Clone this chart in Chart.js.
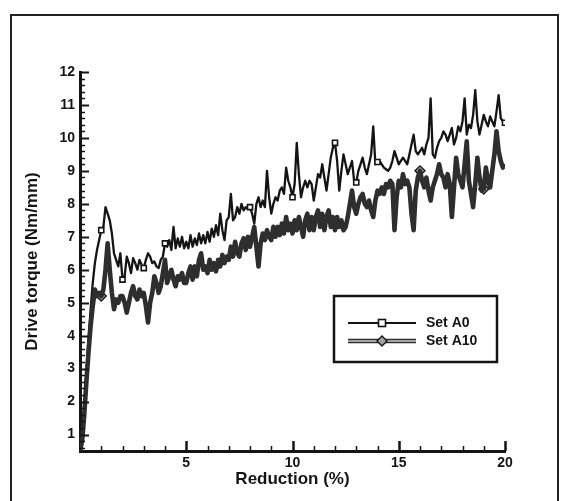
<!DOCTYPE html>
<html>
<head>
<meta charset="utf-8">
<script src="https://cdn.jsdelivr.net/npm/chart.js@4/dist/chart.umd.min.js"></script>
<style>
  html, body { margin: 0; padding: 0; background: #fff; }
  #wrap { position: relative; width: 562px; height: 501px; overflow: hidden; }
  #frame { position: absolute; left: 10px; top: 14px; width: 545px; height: 495px; border: 2px solid #222; border-bottom: none; }
  canvas { position: absolute; left: 0; top: 0; }
</style>
</head>
<body>
<div id="wrap">
  <div id="frame"></div>
  <canvas id="torque_chart" width="562" height="501"></canvas>
</div>
<script>
// DATA (one value every 0.1 % reduction)
const reductionStep = 0.1;

const setA0 = [
  0.6, 0.9, 1.8, 2.9, 3.9, 4.8, 5.6, 6.2, 6.6, 6.9,        // 0.0 - 0.9
  7.2, 7.3, 7.9, 7.7, 7.5, 7.1, 6.5, 6.3, 6.1, 6.5,        // 1.0
  5.7, 5.8, 6.4, 6.2, 5.9, 6.35, 6.2, 6.0, 6.3, 6.15,      // 2.0
  6.05, 6.3, 6.5, 6.4, 6.2, 6.25, 6.1, 6.05, 6.3, 6.4,     // 3.0
  6.8, 6.7, 6.9, 6.6, 7.3, 6.65, 6.95, 6.7, 7.0, 6.65,     // 4.0
  6.85, 6.65, 7.05, 6.7, 6.95, 6.75, 7.1, 6.8, 7.05, 6.8,  // 5.0
  7.15, 6.85, 7.25, 7.0, 7.35, 7.05, 7.7, 7.2, 6.9, 7.5,   // 6.0
  7.6, 8.3, 7.5, 7.6, 7.9, 7.7, 8.0, 7.8, 7.9, 7.85,       // 7.0
  7.9, 7.7, 7.4, 8.0, 8.2, 7.9, 8.1, 7.9, 9.0, 8.2,        // 8.0
  7.7, 8.0, 8.2, 8.1, 8.4, 8.5, 8.3, 9.1, 8.7, 8.5,        // 9.0
  8.2, 8.6, 9.85, 8.9, 8.2, 8.5, 8.7, 8.5, 8.7, 8.6,       // 10.0
  8.1, 8.5, 8.9, 8.8, 9.2, 8.8, 8.4, 8.9, 9.4, 9.7,        // 11.0
  9.85, 9.3, 8.4, 9.0, 9.5, 9.2, 8.9, 9.1, 9.3, 8.7,       // 12.0
  8.65, 9.0, 9.2, 9.4, 9.1, 8.9, 9.2, 9.5, 10.35, 9.2,     // 13.0
  9.27, 9.3, 9.2, 9.1, 9.05, 9.0, 9.1, 9.3, 9.6, 9.4,      // 14.0
  9.2, 9.3, 9.4, 9.3, 9.2, 9.5, 9.8, 10.1, 9.6, 9.5,       // 15.0
  9.6, 9.7, 9.5, 9.8, 10.0, 11.2, 9.5, 9.4, 9.7, 9.9,      // 16.0
  10.0, 10.2, 10.1, 9.9, 10.1, 10.3, 9.8, 10.0, 10.35, 10.2, // 17.0
  10.5, 11.2, 10.1, 10.4, 10.3, 10.7, 11.45, 10.5, 10.1, 10.4, // 18.0
  10.7, 10.5, 10.35, 10.65, 10.5, 10.35, 10.8, 11.3, 10.6, 10.5, // 19.0
  10.46                                                      // 20.0
];

const setA10 = [
  0.5, 0.8, 1.6, 2.6, 3.5, 4.3, 4.9, 5.4, 5.2, 5.3,        // 0.0 - 0.9
  5.2, 5.4, 6.0, 6.8, 6.0, 5.3, 4.8, 5.1, 5.0, 5.2,        // 1.0
  5.2, 5.0, 4.7, 5.0, 5.3, 5.5, 5.2, 5.1, 5.4, 5.2,        // 2.0
  5.3, 4.9, 4.4, 5.0, 5.3, 5.8, 5.6, 5.3, 5.5, 5.9,        // 3.0
  6.3, 5.6, 5.8, 6.0, 5.7, 5.5, 5.8, 5.7, 5.9, 5.6,        // 4.0
  5.6, 5.9, 6.1, 5.7, 6.1, 5.8, 6.3, 6.5, 6.0, 6.1,        // 5.0
  5.9, 6.3, 6.0, 6.2, 5.95, 6.3, 6.1, 6.45, 6.2, 6.4,      // 6.0
  6.3, 6.7, 6.4, 6.85, 6.5, 6.4, 6.8, 6.95, 6.6, 7.0,      // 7.0
  6.7, 7.0, 7.3, 6.7, 6.1, 6.8, 7.1, 6.9, 7.2, 7.0,        // 8.0
  6.9, 7.3, 7.0, 7.3, 7.05, 7.4, 7.1, 7.6, 7.2, 7.4,       // 9.0
  7.1, 7.5, 7.2, 7.6, 7.3, 7.0, 7.5, 7.7, 7.2, 7.6,        // 10.0
  7.2, 7.6, 7.8, 7.3, 7.7, 7.2, 7.6, 7.8, 7.3, 7.6,        // 11.0
  7.2, 7.6, 7.3, 7.5, 7.2, 7.3, 7.6, 8.0, 8.4, 7.9,        // 12.0
  7.7, 8.0, 8.2, 8.3, 8.0, 7.9, 8.1, 7.8, 7.6, 8.1,        // 13.0
  8.4, 8.3, 8.5, 8.3, 8.6, 8.5, 8.7, 8.6, 7.2, 8.2,        // 14.0
  8.7, 8.5, 8.9, 8.6, 8.7, 8.5, 7.7, 7.2, 8.4, 8.8,        // 15.0
  9.0, 8.7, 8.5, 8.8, 8.4, 8.1, 8.5, 8.7, 8.9, 9.2,        // 16.0
  8.9, 8.8, 8.5, 8.9, 8.6, 7.6, 8.5, 9.4, 8.9, 8.7,        // 17.0
  8.5, 9.2, 9.9, 8.7, 8.3, 7.9, 8.6, 9.4, 8.8, 8.4,        // 18.0
  8.45, 9.1, 8.7, 8.5, 9.0, 9.5, 10.2, 9.6, 9.3, 9.1,      // 19.0
  9.2                                                       // 20.0
];

// where the symbols are visible in the figure (% reduction)
const markersA0 = [1, 2, 3, 4, 8, 10, 12, 13, 14, 20];
const markersA10 = [1, 16, 19];

const xTickLabels = [5, 10, 15, 20];
const yTickLabels = [1, 2, 3, 4, 5, 6, 7, 8, 9, 10, 11, 12];

const seriesNames = ["Set A0", "Set A10"];

// BUILD POINTS
const reduction = setA0.map((v, i) => +(i * reductionStep).toFixed(1));
const pointsA0 = setA0.map((v, i) => ({ x: reduction[i], y: v }));
const pointsA10 = setA10.map((v, i) => ({ x: reduction[i], y: v }));

function markerRadius(list, size) {
  return (c) => {
    const xv = reduction[c.dataIndex];
    return list.some((m) => Math.abs(m - xv) < 1e-6) ? size : 0;
  };
}

const ink = "#141414";
const edge = "#2e2e2e";
const grey = "#a3a3a3";
const fontFam = '"Liberation Sans", Arial, sans-serif';

// INWARD TICK MARKS
const tickMarks = {
  id: "tickMarks",
  afterDraw(chart) {
    const { ctx } = chart;
    const { x, y } = chart.scales;
    const left = chart.chartArea.left;
    const bottom = chart.chartArea.bottom;
    ctx.save();
    ctx.strokeStyle = ink;
    // y axis: minor every 0.2, major on integers
    for (let k = 3; k <= 60; k++) {
      const v = k / 5;
      const py = Math.round(y.getPixelForValue(v)) + 0.5;
      const major = k % 5 === 0;
      ctx.lineWidth = major ? 2 : 1.5;
      ctx.beginPath();
      ctx.moveTo(left, py);
      ctx.lineTo(left + (major ? 9 : 5), py);
      ctx.stroke();
    }
    // x axis: minor every 1, major every 5
    for (let k = 1; k <= 20; k++) {
      const px = Math.round(x.getPixelForValue(k)) + 0.5;
      const major = k % 5 === 0;
      ctx.lineWidth = major ? 2.5 : 1.5;
      ctx.beginPath();
      ctx.moveTo(px, bottom);
      ctx.lineTo(px, bottom - (major ? 10 : 5));
      ctx.stroke();
    }
    ctx.restore();
  },
};

// LEGEND BOX INSIDE THE PLOT
const boxLegend = {
  id: "boxLegend",
  afterDraw(chart) {
    const { ctx } = chart;
    const bx = 334, by = 296, bw = 163, bh = 66;
    ctx.save();
    ctx.fillStyle = "#fff";
    ctx.fillRect(bx, by, bw, bh);
    ctx.lineWidth = 2.5;
    ctx.strokeStyle = ink;
    ctx.strokeRect(bx, by, bw, bh);

    const x1 = 348, x2 = 416, mx = 382;
    const rows = [323, 341];

    // Set A0
    ctx.lineWidth = 1.8;
    ctx.strokeStyle = ink;
    ctx.beginPath();
    ctx.moveTo(x1, rows[0]);
    ctx.lineTo(x2, rows[0]);
    ctx.stroke();
    ctx.fillStyle = "#fff";
    ctx.lineWidth = 1.6;
    ctx.fillRect(mx - 3.5, rows[0] - 3.5, 7, 7);
    ctx.strokeRect(mx - 3.5, rows[0] - 3.5, 7, 7);

    // Set A10
    ctx.lineWidth = 4.4;
    ctx.strokeStyle = edge;
    ctx.beginPath();
    ctx.moveTo(x1, rows[1]);
    ctx.lineTo(x2, rows[1]);
    ctx.stroke();
    ctx.lineWidth = 2.2;
    ctx.strokeStyle = grey;
    ctx.beginPath();
    ctx.moveTo(x1, rows[1]);
    ctx.lineTo(x2, rows[1]);
    ctx.stroke();
    ctx.fillStyle = grey;
    ctx.strokeStyle = ink;
    ctx.lineWidth = 1.4;
    ctx.beginPath();
    ctx.moveTo(mx, rows[1] - 5);
    ctx.lineTo(mx + 5, rows[1]);
    ctx.lineTo(mx, rows[1] + 5);
    ctx.lineTo(mx - 5, rows[1]);
    ctx.closePath();
    ctx.fill();
    ctx.stroke();

    ctx.fillStyle = ink;
    ctx.font = "bold 14px " + fontFam;
    ctx.textBaseline = "middle";
    ctx.textAlign = "left";
    ctx.fillText(seriesNames[0], 426, rows[0]);
    ctx.fillText(seriesNames[1], 426, rows[1]);
    ctx.restore();
  },
};

// CHART
const ctx = document.getElementById("torque_chart").getContext("2d");

new Chart(ctx, {
  type: "line",
  data: {
    datasets: [
      {
        label: seriesNames[1] + " outline",
        data: pointsA10,
        borderColor: edge,
        borderWidth: 4.6,
        borderJoinStyle: "round",
        pointRadius: 0,
        tension: 0,
        fill: false,
      },
      {
        label: seriesNames[1],
        data: pointsA10,
        borderColor: grey,
        borderWidth: 2.3,
        borderJoinStyle: "round",
        tension: 0,
        fill: false,
        pointStyle: "rectRot",
        pointRadius: markerRadius(markersA10, 5),
        pointBackgroundColor: grey,
        pointBorderColor: ink,
        pointBorderWidth: 1.4,
      },
      {
        label: seriesNames[0],
        data: pointsA0,
        borderColor: ink,
        borderWidth: 2.3,
        borderJoinStyle: "round",
        tension: 0,
        fill: false,
        pointStyle: "rect",
        pointRadius: markerRadius(markersA0, 3.6),
        pointBackgroundColor: "#fff",
        pointBorderColor: ink,
        pointBorderWidth: 1.6,
      },
    ],
  },
  options: {
    responsive: false,
    animation: false,
    layout: { padding: { left: 14, top: 72, right: 57, bottom: 8 } },
    plugins: {
      legend: { display: false },
      tooltip: { enabled: false },
    },
    scales: {
      x: {
        type: "linear",
        min: 0,
        max: 20,
        grid: { display: false, drawTicks: false },
        border: { display: true, color: ink, width: 3 },
        afterBuildTicks: (s) => {
          s.ticks = xTickLabels.map((v) => ({ value: v }));
        },
        afterFit: (s) => {
          s.height = 42;
        },
        ticks: {
          color: ink,
          padding: 4,
          font: { family: fontFam, size: 14, weight: "bold" },
        },
        title: {
          display: true,
          text: "Reduction (%)",
          color: ink,
          padding: { top: 0, bottom: 3 },
          font: { family: fontFam, size: 17, weight: "bold" },
        },
      },
      y: {
        type: "linear",
        min: 0.5,
        max: 12,
        grid: { display: false, drawTicks: false },
        border: { display: true, color: ink, width: 3 },
        afterBuildTicks: (s) => {
          s.ticks = yTickLabels.map((v) => ({ value: v }));
        },
        afterFit: (s) => {
          s.width = 66;
        },
        ticks: {
          color: ink,
          padding: 5,
          font: { family: fontFam, size: 14, weight: "bold" },
        },
        title: {
          display: true,
          text: "Drive torque (Nm/mm)",
          color: ink,
          padding: { top: 8, bottom: 0 },
          font: { family: fontFam, size: 17, weight: "bold" },
        },
      },
    },
  },
  plugins: [tickMarks, boxLegend],
});
</script>
</body>
</html>
